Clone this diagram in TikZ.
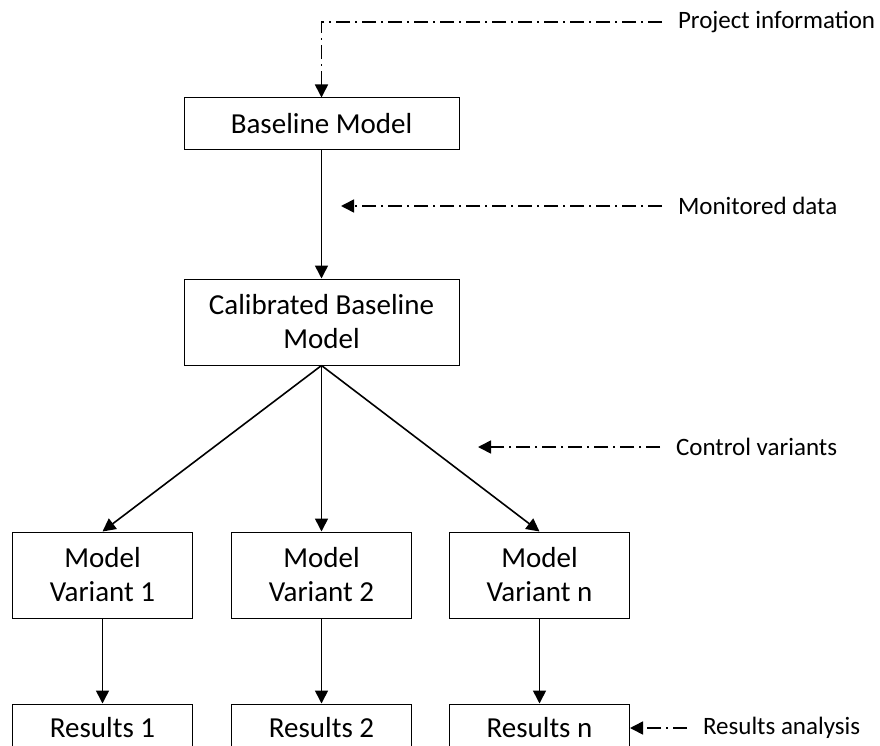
\documentclass[tikz,border=0pt]{standalone}
\usepackage{fontspec}
\setmainfont{Carlito}
\usetikzlibrary{arrows.meta,positioning}

\begin{document}
\begin{tikzpicture}[
      x=1pt, y=1pt,
      node distance = 128pt and 38pt,
      box/.style = {draw, line width=1pt, align=center, inner sep=0pt,
                    font=\fontsize{29}{34}\selectfont},
      wide/.style = {box, minimum width=275pt},
      narrow/.style = {box, minimum width=180pt, minimum height=86pt},
      result/.style = {box, minimum width=180pt, minimum height=48pt},
      note/.style = {font=\fontsize{25}{30}\selectfont, inner sep=0pt,
                     outer xsep=16pt, anchor=west},
      arrow/.style = {-{Triangle[length=13pt,width=13pt]}, line width=1.6pt},
      info/.style = {arrow, dash pattern=on 14pt off 5pt on 2pt off 5pt}
    ]
    \useasboundingbox (0,0) rectangle (880,-746);
    \clip (0,0) rectangle (880,-746);

    \node[wide, minimum height=52pt] (base) at (321.5,-124) {Baseline Model};
    \node[wide, minimum height=86pt] (calib) [below=128pt of base] {Calibrated Baseline\\Model};
    \node[narrow] (var2) [below=166pt of calib] {Model\\Variant 2};
    \node[narrow] (var1) [left=38pt of var2]    {Model\\Variant 1};
    \node[narrow] (varn) [right=37pt of var2]   {Model\\Variant n};
    \node[result] (res1) [below=85pt of var1]   {Results 1};
    \node[result] (res2) [below=85pt of var2]   {Results 2};
    \node[result] (resn) [below=85pt of varn]   {Results n};

    \node[note] (pinfo) at (662,-22)  {Project information};
    \node[note] (mon)   at (662,-206) {Monitored data};
    \node[note] (ctrl)  at (660,-447) {Control variants};
    \node[note] (ranl)  [right=57pt of resn] {Results analysis};
    \coordinate (monend)  at (341,-206);
    \coordinate (ctrlend) at (478,-447);

    \draw[info] (pinfo.west) -| (base.north);
    \draw[info] (mon.west)   -- (monend);
    \draw[info] (ctrl.west)  -- (ctrlend);
    \draw[info] (ranl.west)  -- (resn.east);

    \draw[arrow] (base) -- (calib);
    \foreach \v in {var1,var2,varn}
      \draw[arrow] (calib.south) -- (\v.north);
    \foreach \v/\r in {var1/res1,var2/res2,varn/resn}
      \draw[arrow] (\v) -- (\r);
  \end{tikzpicture}
\end{document}
